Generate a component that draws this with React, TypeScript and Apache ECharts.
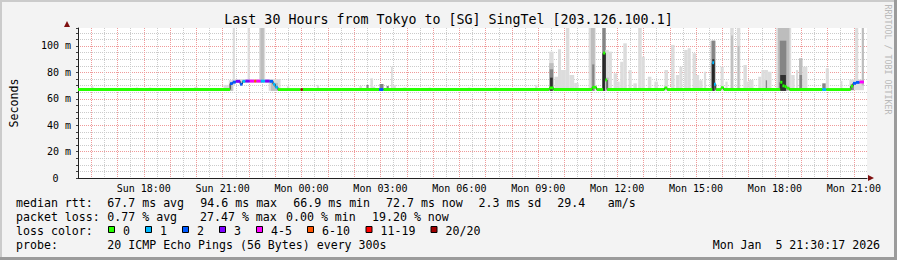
import React, { useEffect, useRef } from 'react';
import * as echarts from 'echarts';

const FONT = '"DejaVu Sans Mono", monospace';

const TITLE = 'Last 30 Hours from Tokyo to [SG] SingTel [203.126.100.1]';
const WATERMARK = 'RRDTOOL / TOBI OETIKER';
const Y_NAME = 'Seconds';

// time in minutes from Sunday 00:00
const X_START = 930; // Sun 15:30
const X_END = 2730; // Mon 21:30
const Y_TOP = 113.6; // ms

const X_TICK_VALUES = [1080, 1260, 1440, 1620, 1800, 1980, 2160, 2340, 2520, 2700];
const X_TICK_LABELS = ['Sun 18:00', 'Sun 21:00', 'Mon 00:00', 'Mon 03:00', 'Mon 06:00', 'Mon 09:00', 'Mon 12:00', 'Mon 15:00', 'Mon 18:00', 'Mon 21:00'];
const Y_TICK_VALUES = [20, 40, 60, 80, 100];
const Y_TICK_LABELS = ['20 m', '40 m', '60 m', '80 m', '100 m'];
const Y_ZERO_LABEL = '0';

const LOSS_LABELS = ['0', '1', '2', '3', '4-5', '6-10', '11-19', '20/20'];
const LOSS_COLORS = ['#26ff00', '#00b8ff', '#0059ff', '#7e00ff', '#ff00ff', '#ff5500', '#ff0000', '#a00000'];
const SMOKE_COLORS = ['#dcdcdc', '#bdbdbd', '#858585', '#303030'];

// median rtt: [start min, end min, median ms, loss class]
const MEDIAN: number[][] = [
  [930, 1277, 67.0, 0],
  [1277, 1283, 71.5, 2],
  [1283, 1290, 72.6, 2],
  [1290, 1300, 73.2, 3],
  [1300, 1305, 71.0, 2],
  [1305, 1312, 73.2, 1],
  [1312, 1322, 73.4, 3],
  [1322, 1332, 73.4, 4],
  [1332, 1337, 73.4, 5],
  [1337, 1347, 73.4, 4],
  [1347, 1357, 73.4, 1],
  [1357, 1367, 73.4, 3],
  [1367, 1375, 73.2, 2],
  [1375, 1380, 71.0, 1],
  [1380, 1386, 68.8, 1],
  [1386, 1438, 67.0, 0],
  [1438, 1443, 67.0, 7],
  [1443, 1617, 67.0, 0],
  [1617, 1627, 67.0, 2],
  [1627, 2005, 67.0, 0],
  [2005, 2015, 68.2, 0],
  [2015, 2103, 67.0, 0],
  [2103, 2113, 68.7, 0],
  [2113, 2128, 67.0, 0],
  [2128, 2133, 94.6, 0],
  [2133, 2137, 74.2, 0],
  [2137, 2268, 67.0, 0],
  [2268, 2274, 68.2, 0],
  [2274, 2377, 67.0, 0],
  [2377, 2381, 87.3, 1],
  [2381, 2385, 71.0, 1],
  [2385, 2397, 67.0, 0],
  [2397, 2403, 68.4, 0],
  [2403, 2532, 67.0, 0],
  [2532, 2537, 72.5, 0],
  [2537, 2542, 69.8, 0],
  [2542, 2547, 69.2, 0],
  [2547, 2553, 68.0, 0],
  [2553, 2628, 67.0, 0],
  [2628, 2637, 67.0, 1],
  [2637, 2693, 67.0, 0],
  [2693, 2698, 69.5, 0],
  [2698, 2705, 71.7, 2],
  [2705, 2713, 72.4, 2],
  [2713, 2723, 72.7, 4],
];

// smoke: [start min, end min, low ms, high ms, shade level]
const SMOKE: number[][] = [
  [960, 965, 66, 69.5, 0],
  [1062, 1067, 66, 68.5, 0],
  [1092, 1097, 66, 68.5, 0],
  [1195, 1203, 66, 68.8, 0],
  [1262, 1277, 66, 70.5, 0],
  [1274, 1285, 66, 74, 0],
  [1277, 1283, 66, 71, 1],
  [1283, 1367, 72, 75, 0],
  [1283, 1288, 70, 113.6, 0],
  [1317, 1322, 72, 113.6, 0],
  [1343, 1357, 72, 113.6, 0],
  [1346, 1354, 72, 113.6, 1],
  [1365, 1392, 66, 75, 0],
  [1370, 1386, 66, 72, 1],
  [1407, 1412, 66, 69.7, 0],
  [1475, 1480, 66, 70.5, 0],
  [1572, 1578, 66, 69.7, 0],
  [1588, 1593, 66, 70.5, 2],
  [1597, 1603, 66, 75.5, 0],
  [1603, 1608, 66, 69.2, 0],
  [1618, 1627, 66, 71.2, 2],
  [1634, 1639, 66, 69.7, 2],
  [1644, 1648, 66, 84.3, 0],
  [1648, 1655, 66, 70.5, 0],
  [1672, 1679, 66, 68.5, 0],
  [1730, 1735, 66, 68.5, 0],
  [1820, 1825, 66, 68.5, 0],
  [1880, 1885, 66, 68.5, 0],
  [1973, 1978, 66, 70.5, 0],
  [2005, 2015, 66, 95.7, 0],
  [2005, 2015, 66, 87, 1],
  [2006, 2014, 66, 82.3, 2],
  [2007, 2013, 66, 76, 3],
  [2017, 2025, 66, 76.7, 0],
  [2025, 2032, 66, 97.5, 0],
  [2032, 2043, 66, 81.8, 0],
  [2043, 2051, 66, 113.6, 0],
  [2051, 2062, 66, 78, 0],
  [2062, 2072, 66, 72, 0],
  [2095, 2111, 66, 113.6, 0],
  [2100, 2109, 66, 113.6, 1],
  [2103, 2108, 66, 86, 2],
  [2126, 2134, 66, 113.6, 2],
  [2127, 2133, 66, 94, 3],
  [2133, 2141, 66, 97, 0],
  [2133, 2141, 66, 76, 1],
  [2141, 2148, 66, 95.7, 0],
  [2152, 2160, 66, 79.3, 0],
  [2160, 2166, 66, 73, 0],
  [2167, 2174, 66, 88, 0],
  [2174, 2182, 66, 102, 0],
  [2186, 2193, 66, 81.8, 0],
  [2197, 2205, 66, 71.7, 0],
  [2208, 2216, 66, 113.6, 0],
  [2216, 2223, 66, 91.9, 0],
  [2230, 2238, 66, 76.7, 0],
  [2245, 2253, 66, 73, 0],
  [2268, 2276, 66, 81.8, 0],
  [2283, 2291, 66, 100.8, 0],
  [2294, 2302, 66, 78, 0],
  [2302, 2309, 66, 84.3, 0],
  [2313, 2321, 66, 97, 0],
  [2321, 2328, 66, 98.3, 0],
  [2332, 2340, 66, 94.5, 0],
  [2340, 2347, 66, 78, 0],
  [2347, 2355, 66, 74, 0],
  [2358, 2363, 66, 80.5, 0],
  [2373, 2385, 66, 104, 1],
  [2376, 2383, 66, 104, 2],
  [2377, 2382, 66, 90, 3],
  [2396, 2403, 66, 84.3, 0],
  [2407, 2412, 66, 73, 0],
  [2418, 2426, 66, 113.6, 0],
  [2420, 2424, 66, 108, 1],
  [2433, 2441, 66, 113.6, 0],
  [2435, 2439, 66, 100, 1],
  [2448, 2456, 66, 85.6, 0],
  [2456, 2460, 66, 73, 0],
  [2460, 2471, 66, 74.2, 0],
  [2482, 2489, 66, 76.7, 0],
  [2489, 2497, 66, 81.8, 0],
  [2497, 2504, 66, 81.8, 0],
  [2499, 2502, 66, 74, 2],
  [2504, 2512, 66, 80.5, 0],
  [2523, 2557, 66, 113.6, 0],
  [2527, 2553, 66, 113.6, 1],
  [2531, 2546, 66, 104, 2],
  [2532, 2545, 66, 78, 3],
  [2557, 2565, 66, 78, 0],
  [2568, 2573, 66, 81.8, 0],
  [2575, 2583, 66, 90.7, 1],
  [2576, 2582, 66, 78, 2],
  [2583, 2594, 66, 84.3, 0],
  [2628, 2636, 66, 71.7, 2],
  [2636, 2643, 66, 83.1, 0],
  [2669, 2674, 66, 73.5, 0],
  [2690, 2723, 66.5, 74.5, 0],
  [2693, 2700, 66.5, 71, 2],
  [2703, 2710, 70, 113.6, 0],
  [2718, 2723, 70, 113.6, 1],
];

const RTT_HEAD = 'median rtt:';
const RTT_ITEMS = ['67.7 ms avg', '94.6 ms max', '66.9 ms min', '72.7 ms now', '2.3 ms sd', '29.4', 'am/s'];
const LOSS_HEAD = 'packet loss:';
const LOSS_ITEMS = ['0.77 % avg', '27.47 % max', '0.00 % min', '19.20 % now'];
const COLOR_HEAD = 'loss color:';
const PROBE_HEAD = 'probe:';
const PROBE_TEXT = '20 ICMP Echo Pings (56 Bytes) every 300s';
const DATE_PARTS = ['Mon Jan', '5 21:30:17 2026'];

// layout (pixels)
const RTT_X = [107.3, 200.3, 293.3, 386, 478.5, 557.3, 607.7];
const LOSS_X = [107.3, 200, 286, 372];
const BOX_X = [108.5, 145.5, 182.5, 219.5, 256.5, 307.5, 366, 431];
const DATE_X = [712.7, 775.4];
const ROW_Y = [203, 217, 231, 245];
const LEG_SIZE = 11.6;
const MED_HALF = 1.1;

const GRID_GRAY = '#cbcbcb';
const GRID_RED = '#ef9a9a';
const AXIS_COLOR = '#202020';

export default function App() {
  const ref = useRef<HTMLDivElement>(null);
  useEffect(() => {
    document.body.style.margin = '0';
    const chart = echarts.init(ref.current!, null, { renderer: 'svg' });

    const darkLine: any[] = [];
    MEDIAN.forEach((s) => {
      darkLine.push([s[0], s[2]]);
      darkLine.push([s[1], s[2]]);
    });

    const txt = (text: string, x: number, y: number, extra: any = {}) => ({
      type: 'text',
      x,
      y,
      silent: true,
      style: { text, fill: '#000', font: `${LEG_SIZE}px ${FONT}`, verticalAlign: 'middle', align: 'left', ...extra },
    });

    const graphics: any[] = [
      { type: 'rect', shape: { x: 0, y: 0, width: 897, height: 2 }, style: { fill: '#cbcbcb' } },
      { type: 'rect', shape: { x: 0, y: 0, width: 2, height: 260 }, style: { fill: '#cbcbcb' } },
      { type: 'rect', shape: { x: 0, y: 257, width: 897, height: 3 }, style: { fill: '#9b9b9b' } },
      { type: 'rect', shape: { x: 894, y: 0, width: 3, height: 260 }, style: { fill: '#9b9b9b' } },
      { type: 'polygon', shape: { points: [[64, 27], [70, 27], [67, 21]] }, style: { fill: '#7f1010' } },
      { type: 'polygon', shape: { points: [[868, 175], [868, 181], [874, 178]] }, style: { fill: '#7f1010' } },
      {
        type: 'text', x: 887.5, y: 59.5, rotation: -Math.PI / 2, silent: true,
        style: { text: WATERMARK, fill: '#b9b9b9', font: `8.3px ${FONT}`, align: 'center', verticalAlign: 'middle' },
      },
      txt(RTT_HEAD, 16, ROW_Y[0]),
      ...RTT_ITEMS.map((t, i) => txt(t, RTT_X[i], ROW_Y[0])),
      txt(LOSS_HEAD, 16, ROW_Y[1]),
      ...LOSS_ITEMS.map((t, i) => txt(t, LOSS_X[i], ROW_Y[1])),
      txt(COLOR_HEAD, 16, ROW_Y[2]),
      ...LOSS_LABELS.map((t, i) => txt(t, BOX_X[i] + 14.5, ROW_Y[2])),
      ...LOSS_COLORS.map((c, i) => ({
        type: 'rect', shape: { x: BOX_X[i], y: 226.5, width: 6, height: 6 },
        style: { fill: c, stroke: '#000', lineWidth: 1 },
      })),
      txt(PROBE_HEAD, 16, ROW_Y[3]),
      txt(PROBE_TEXT, 107.3, ROW_Y[3]),
      ...DATE_PARTS.map((t, i) => txt(t, DATE_X[i], ROW_Y[3])),
    ];

    const hidden = { axisLine: { show: false }, axisTick: { show: false }, axisLabel: { show: false } };
    const dotted = (color: string) => ({
      show: true, showMinLine: false, showMaxLine: false,
      lineStyle: { color, type: [1, 1], width: 1 },
    });
    const labelStyle = { fontFamily: FONT, fontSize: 10, color: '#000' };
    const xBase = { type: 'value', min: X_START, max: X_END, position: 'bottom', gridIndex: 0 };
    const yBase = { type: 'value', min: 0, max: Y_TOP, position: 'left', gridIndex: 0 };

    const option: any = {
      animation: false,
      backgroundColor: '#f3f3f3',
      title: {
        text: TITLE, left: 'center', top: 12, padding: 0,
        textStyle: { fontFamily: FONT, fontSize: 13.3, fontWeight: 'normal', color: '#000', lineHeight: 14 },
      },
      grid: { left: 67, top: 28, width: 800, height: 150, show: true, backgroundColor: '#ffffff', borderWidth: 0 },
      xAxis: [
        // 30-minute minor grid (series axis)
        {
          ...xBase, ...hidden, splitNumber: 60, minInterval: 30, maxInterval: 30,
          axisLine: { show: true, onZero: false, lineStyle: { color: AXIS_COLOR, width: 1 } },
          splitLine: dotted(GRID_GRAY),
        },
        // hourly major grid
        { ...xBase, ...hidden, splitNumber: 30, minInterval: 60, maxInterval: 60, splitLine: dotted(GRID_RED) },
        // 3-hour labels
        {
          ...xBase, splitNumber: 10, minInterval: 180, maxInterval: 180,
          axisLine: { show: false }, axisTick: { show: false }, splitLine: { show: false },
          axisLabel: {
            ...labelStyle, margin: 5,
            formatter: (v: number) => { const i = X_TICK_VALUES.indexOf(Math.round(v)); return i >= 0 ? X_TICK_LABELS[i] : ''; },
          },
        },
      ],
      yAxis: [
        {
          ...yBase, interval: 5,
          name: Y_NAME, nameLocation: 'middle', nameGap: 58, nameRotate: 90,
          nameTextStyle: { fontFamily: FONT, fontSize: 11.6, color: '#000' },
          axisLine: { show: true, onZero: false, lineStyle: { color: AXIS_COLOR, width: 1 } },
          axisTick: { show: true, length: 2, lineStyle: { color: '#404040' } },
          axisLabel: { show: false },
          splitLine: dotted(GRID_GRAY),
        },
        {
          ...yBase, interval: 20,
          axisLine: { show: false }, axisTick: { show: false },
          splitLine: dotted(GRID_RED),
          axisLabel: {
            ...labelStyle, margin: 7,
            formatter: (v: number) => {
              const i = Y_TICK_VALUES.indexOf(Math.round(v * 100) / 100);
              return i >= 0 ? Y_TICK_LABELS[i] : '';
            },
          },
        },
        {
          ...yBase, interval: 200,
          axisLine: { show: false }, axisTick: { show: false }, splitLine: { show: false },
          axisLabel: { ...labelStyle, margin: 19.5, formatter: (v: number) => (v === 0 ? Y_ZERO_LABEL : '') },
        },
      ],
      series: [
        {
          type: 'custom', name: 'smoke', clip: true, silent: true, z: 3,
          xAxisIndex: 0, yAxisIndex: 0,
          encode: { x: [0, 1], y: [2, 3] },
          data: SMOKE,
          renderItem: (params: any, api: any) => {
            const a = api.coord([api.value(0), api.value(3)]);
            const b = api.coord([api.value(1), api.value(2)]);
            return {
              type: 'rect',
              shape: { x: a[0], y: a[1], width: b[0] - a[0], height: b[1] - a[1] },
              style: { fill: SMOKE_COLORS[api.value(4)] },
            };
          },
        },
        {
          type: 'line', name: 'median', data: darkLine, showSymbol: false, silent: true, z: 4,
          xAxisIndex: 0, yAxisIndex: 0,
          lineStyle: { color: '#202020', width: 1 },
        },
        {
          type: 'custom', name: 'loss', clip: true, silent: true, z: 5,
          xAxisIndex: 0, yAxisIndex: 0,
          encode: { x: [0, 1], y: 2 },
          data: MEDIAN,
          renderItem: (params: any, api: any) => {
            const v = api.value(2);
            const a = api.coord([api.value(0), v + MED_HALF]);
            const b = api.coord([api.value(1), v - MED_HALF]);
            return {
              type: 'rect',
              shape: { x: a[0], y: a[1], width: b[0] - a[0], height: b[1] - a[1] },
              style: { fill: LOSS_COLORS[api.value(3)] },
            };
          },
        },
      ],
      graphic: graphics,
    };
    chart.setOption(option);
    return () => chart.dispose();
  }, []);
  return <div ref={ref} style={{ width: 897, height: 260 }} />;
}
